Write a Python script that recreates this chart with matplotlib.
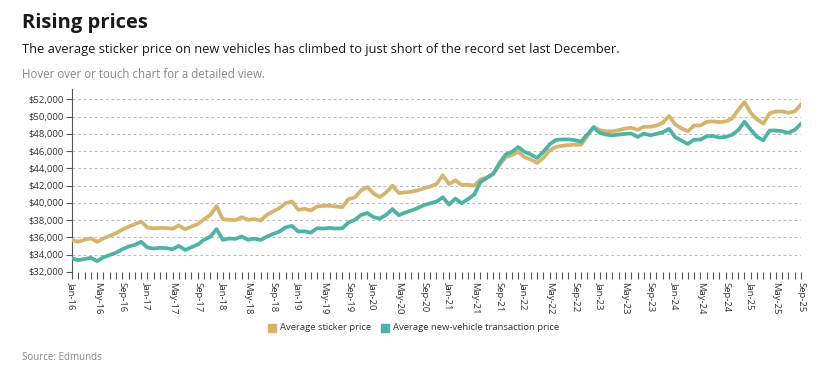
import matplotlib
matplotlib.use("Agg")
import matplotlib.pyplot as plt
from matplotlib.ticker import FuncFormatter, FixedLocator
from matplotlib.patches import Rectangle

plt.rcParams['font.family'] = ['Open Sans', 'DejaVu Sans']

month_names = ["Jan", "Feb", "Mar", "Apr", "May", "Jun",
               "Jul", "Aug", "Sep", "Oct", "Nov", "Dec"]
years = list(range(16, 26))
months = [f"{m}-{y:02d}" for y in years for m in month_names][:117]  # Jan-16 .. Sep-25

sticker = [
    35700, 35500, 35730, 35880, 35500, 35880, 36200, 36500, 36900, 37250, 37550, 37850,
    37150, 37070, 37100, 37100, 37000, 37400, 36950, 37250, 37550, 38100, 38600, 39650,
    38100, 38050, 38000, 38350, 38050, 38120, 37960, 38620, 39010, 39400, 39980, 40170,
    39200, 39320, 39130, 39590, 39670, 39670, 39590, 39510, 40450, 40640, 41460, 41840,
    41070, 40680, 41220, 42000, 41150, 41220, 41300, 41460, 41690, 41900, 42190, 43200,
    42190, 42620, 42080, 42120, 42000, 42700, 42970, 43360, 44370, 45300, 45530, 45920,
    45300, 45030, 44640, 45220, 46080, 46500, 46620, 46700, 46740, 46740, 47750, 48830,
    48410, 48300, 48300, 48430, 48620, 48700, 48470, 48820, 48820, 48970, 49280, 50060,
    49090, 48620, 48310, 48970, 48970, 49400, 49440, 49360, 49440, 49750, 50760, 51690,
    50450, 49670, 49200, 50370, 50600, 50600, 50450, 50600, 51420,
]

transaction = [
    33570, 33380, 33500, 33650, 33260, 33700, 33960, 34230, 34640, 34950, 35140, 35500,
    34830, 34720, 34800, 34760, 34640, 35030, 34560, 34870, 35180, 35730, 36080, 36970,
    35730, 35880, 35840, 36120, 35730, 35860, 35710, 36100, 36410, 36680, 37180, 37340,
    36680, 36720, 36560, 37070, 37030, 37110, 37030, 37070, 37730, 38040, 38620, 38820,
    38350, 38190, 38620, 39280, 38580, 38890, 39130, 39400, 39750, 39960, 40150, 40660,
    39810, 40500, 39960, 40430, 40970, 42430, 42890, 43360, 44600, 45610, 45920, 46470,
    45920, 45610, 45220, 45920, 46780, 47300, 47360, 47360, 47280, 47100, 47940, 48720,
    48100, 47920, 47840, 47920, 48000, 48040, 47650, 48040, 47840, 48000, 48190, 48580,
    47610, 47220, 46830, 47340, 47340, 47730, 47770, 47570, 47650, 47880, 48430, 49400,
    48500, 47650, 47260, 48390, 48390, 48310, 48120, 48470, 49170,
]

series_names = ["Average sticker price", "Average new-vehicle transaction price"]
colors = ["#D6B46C", "#4DB3A4"]

W, H = 820, 375
fig = plt.figure(figsize=(W / 100, H / 100), dpi=100)

left, right, bottom, top = 72, 801, 272, 89
ax = fig.add_axes([left / W, 1 - bottom / H, (right - left) / W, (bottom - top) / H])

x = list(range(len(months)))
ax.plot(x, sticker, color=colors[0], lw=2.7, solid_joinstyle='round', zorder=3)
ax.plot(x, transaction, color=colors[1], lw=2.7, solid_joinstyle='round', zorder=4)

ax.set_xlim(0, len(months) - 1)
ax.set_ylim(32000, 53200)

yt = list(range(32000, 52001, 2000))
ax.set_yticks(yt)
ax.yaxis.set_major_formatter(FuncFormatter(lambda v, p: f"${int(v):,}"))
for v in yt:
    ax.axhline(v, color="#BBBBBB", lw=0.8, ls=(0, (2.5, 2.5)), zorder=1)

ax.xaxis.set_major_locator(FixedLocator([i for i in x if i % 4 == 0]))
ax.set_xticklabels([months[i] for i in x if i % 4 == 0], rotation=-90)
ax.xaxis.set_minor_locator(FixedLocator(x))

ax.tick_params(axis='x', which='both', length=5, width=0.8, color="#555555",
               labelsize=6.8, labelcolor="#333333", pad=2)
ax.tick_params(axis='y', which='major', length=4, width=0.8, color="#555555",
               labelsize=6.8, labelcolor="#333333", pad=2)

for s in ["top", "right", "bottom"]:
    ax.spines[s].set_visible(False)
ax.spines["left"].set_color("#555555")
ax.spines["left"].set_linewidth(0.8)

fig.text(22 / W, 1 - 23 / H, "Rising prices", fontsize=14.5, weight='bold',
         color="#1a1a1a", va='center', ha='left')
fig.text(22 / W, 1 - 50 / H, "The average sticker price on new vehicles has climbed to just short of the record set last December.",
         fontsize=9.3, color="#1a1a1a", va='center', ha='left')
fig.text(22 / W, 1 - 75 / H, "Hover over or touch chart for a detailed view.",
         fontsize=8.3, color="#888888", va='center', ha='left')
fig.text(22 / W, 1 - 357 / H, "Source: Edmunds",
         fontsize=7, color="#888888", va='center', ha='left')

# legend
ly = 328
items = [(268, series_names[0], colors[0]), (381, series_names[1], colors[1])]
for lx, name, c in items:
    fig.patches.append(Rectangle((lx / W, 1 - (ly + 4) / H), 8 / W, 8 / H,
                                 transform=fig.transFigure, color=c, figure=fig))
    fig.text((lx + 12) / W, 1 - ly / H, name, fontsize=6.8, color="#333333",
             va='center', ha='left')

fig.savefig("out.png", dpi=100)
